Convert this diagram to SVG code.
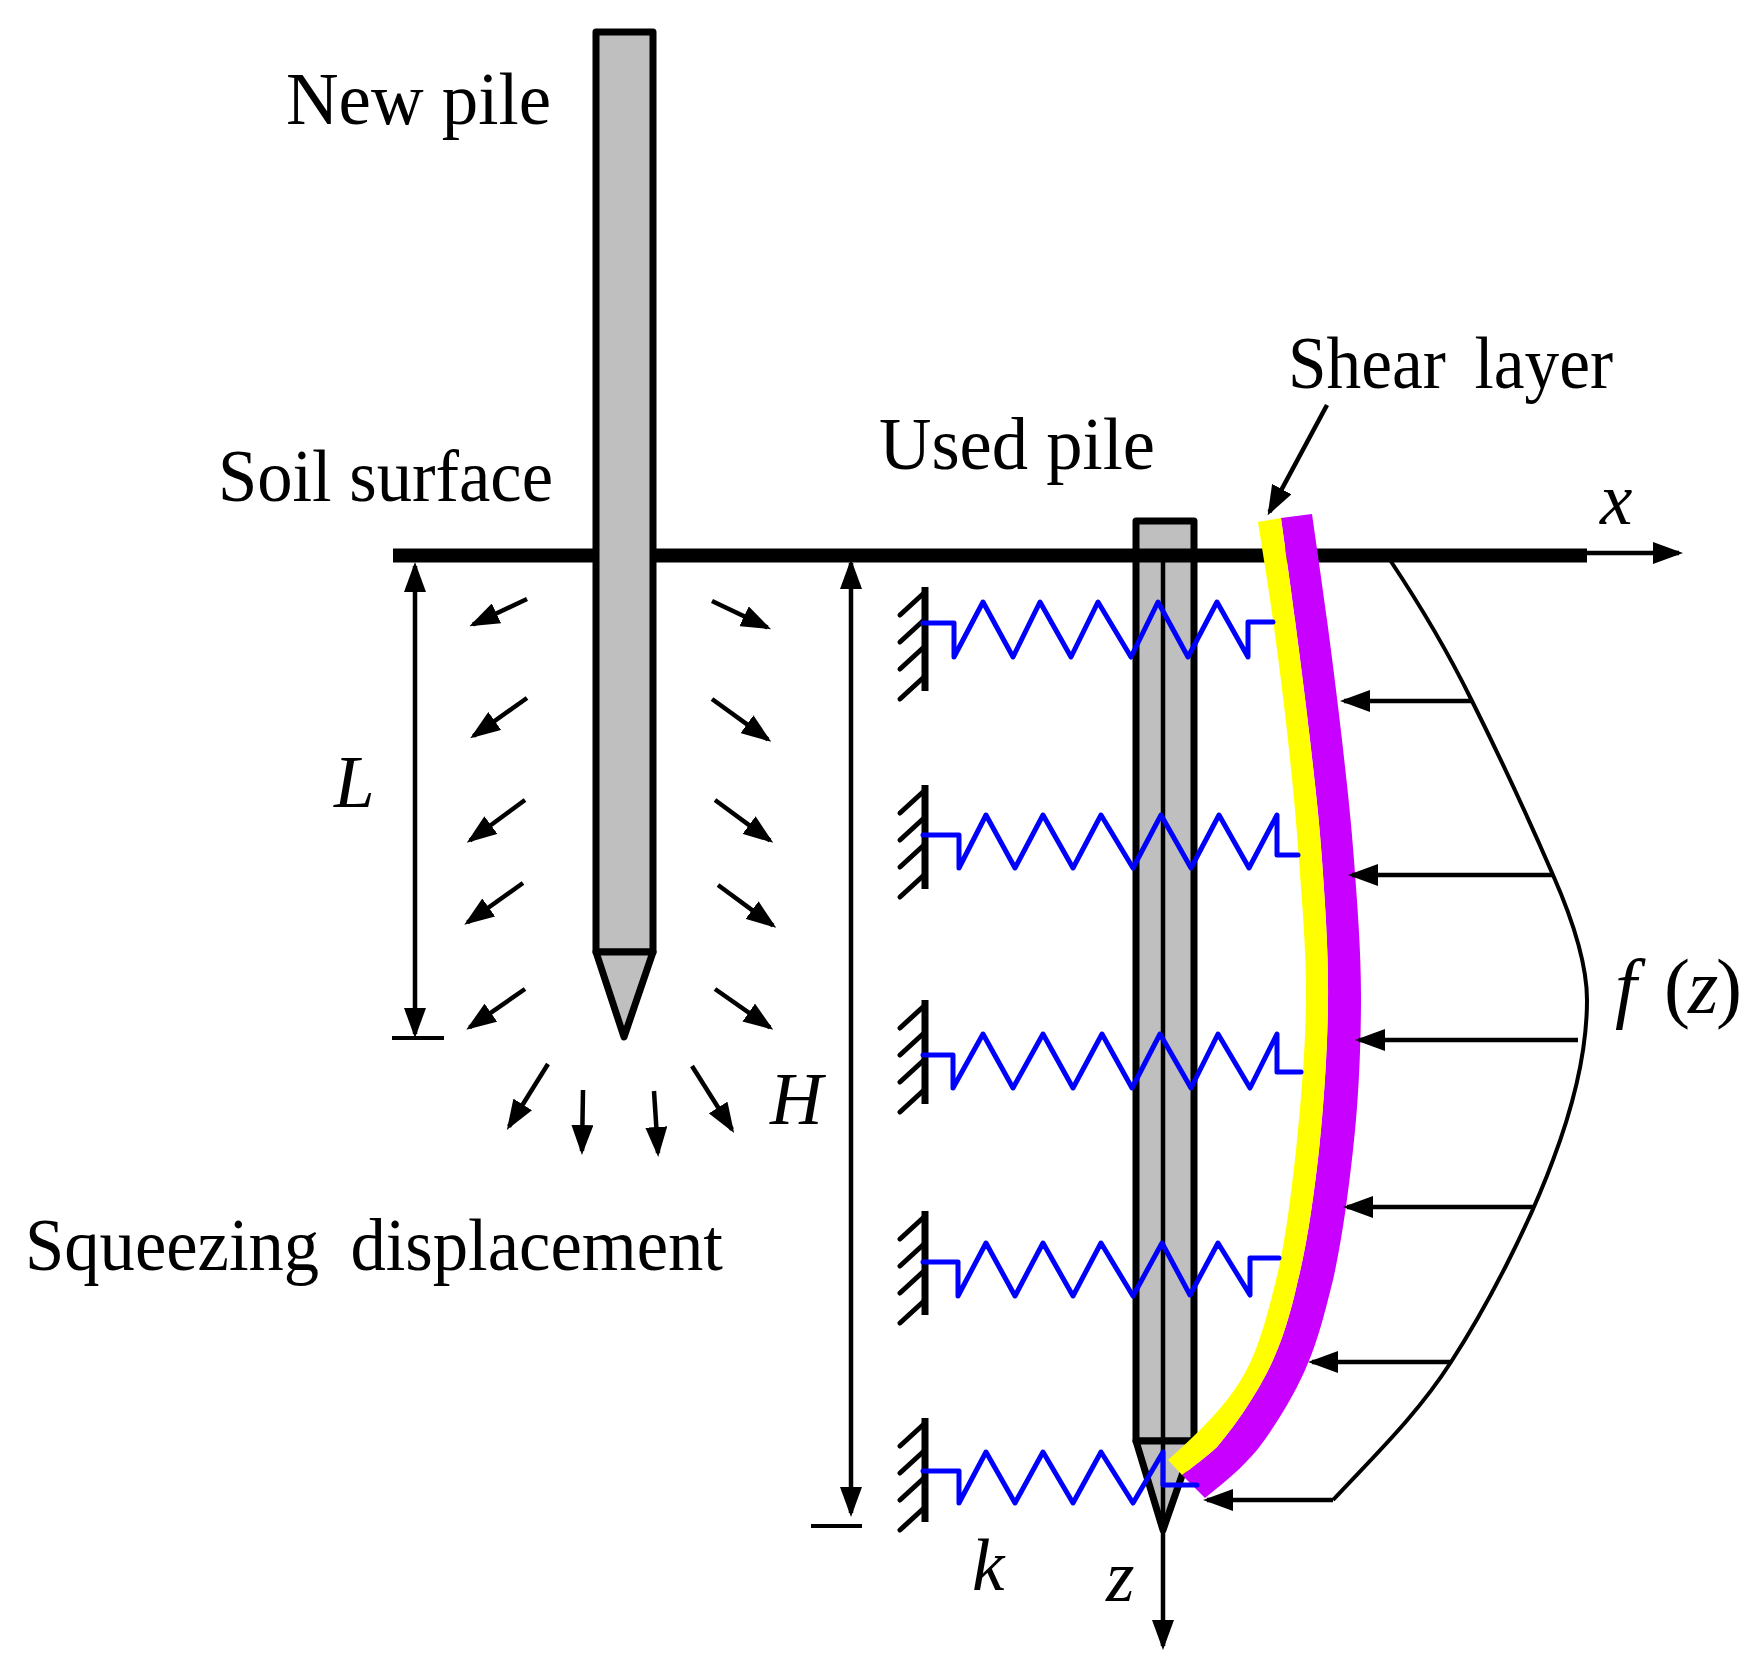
<svg xmlns="http://www.w3.org/2000/svg" xmlns:xlink="http://www.w3.org/1999/xlink" width="1762" height="1672" viewBox="0 0 1762 1672">
<style>
.pile{fill:#bfbfbf;stroke:#000;stroke-width:7;stroke-linejoin:round}
.arw{fill:none;stroke:#000;stroke-width:4.500;marker-end:url(#ah)}
.dbl{marker-start:url(#ahs)}
.thin{fill:none;stroke:#000;stroke-width:4}
.spring{fill:none;stroke:#00f;stroke-width:5;stroke-linejoin:round;stroke-linecap:round}
.wall{fill:none;stroke:#000;stroke-width:7}
.hatch{fill:none;stroke:#000;stroke-width:5;stroke-linecap:round}
text{font-family:"Liberation Serif","Times New Roman",serif;font-size:73px;fill:#000}
.it{font-style:italic}
.big{font-size:78px}
</style>
<defs>
<marker id="ah" markerUnits="userSpaceOnUse" markerWidth="30" markerHeight="22" viewBox="0 0 30 22" refX="26" refY="11" orient="auto"><path d="M0 0L30 11L0 22Z" fill="#000"/></marker>
<marker id="ahs" markerUnits="userSpaceOnUse" markerWidth="30" markerHeight="22" viewBox="0 0 30 22" refX="4" refY="11" orient="auto"><path d="M30 0L0 11L30 22Z" fill="#000"/></marker>
<g id="wallshape">
<path class="wall" d="M925 0V104"/>
<path class="hatch" d="M924 6L900 28M924 33L900 55M924 60L900 82M924 90L900 112"/>
</g>
</defs>
<rect width="1762" height="1672" fill="#fff"/>
<g id="used-pile">
<rect class="pile" x="1136" y="521" width="58" height="920"/>
<path class="pile" d="M1136 1441L1163 1530L1194 1441Z"/>
</g>
<g id="soil-surface">
<path d="M393 555.500H1587" stroke="#000" stroke-width="14" fill="none"/>
</g>
<g id="new-pile">
<rect class="pile" x="596" y="32" width="57" height="920"/>
<path class="pile" d="M596 952L624 1037L653 952Z"/>
</g>
<g id="load-curve">
<path class="thin" d="M1390 560C1420 605 1448 652 1472 701C1500 757 1530 822 1553 875C1575 925 1587 965 1587 1000C1587 1055 1570 1115 1553 1160C1529 1225 1488 1305 1451 1362C1417 1415 1375 1455 1333 1500"/>
</g>
<g id="shear-layer">
<path fill="#c800ff" d="M1312 514C1314.500 531.700 1322 582.300 1327 620C1332 657.700 1337.500 700 1342 740C1346.500 780 1350.800 816.700 1354 860C1357.200 903.300 1361.200 951.700 1361 1000C1360.800 1048.300 1358.700 1100 1353 1150C1348 1195 1342 1240 1333 1280C1325 1312 1318 1340 1308 1363C1298 1388 1278 1423 1257 1450C1242 1468 1225 1482 1205 1498L1182 1475C1194 1466 1205 1458 1217 1447C1240 1420 1262 1385 1273 1360C1283 1338 1291 1312 1298 1280C1307 1245 1314 1195 1319 1150C1324.200 1100 1327.500 1048.300 1328 1000C1328.500 951.700 1325 903.300 1322 860C1319 816.700 1314.500 780 1310 740C1305.500 700 1299.800 657 1295 620C1290.200 583 1283.300 535 1281 518Z"/>
<path fill="#ff0" d="M1258 522C1260.500 538.300 1268 583.700 1273 620C1278 656.300 1283.700 700 1288 740C1292.300 780 1296 816.700 1299 860C1302 903.300 1306.500 951.700 1306 1000C1305.500 1048.300 1301.200 1100 1296 1150C1291 1195 1285 1245 1276 1280C1270 1305 1261 1340 1250 1363C1238 1388 1222 1408 1200 1430C1190 1440 1179 1450 1168 1460L1182 1475C1194 1466 1205 1458 1217 1447C1240 1420 1262 1385 1273 1360C1283 1338 1291 1312 1298 1280C1307 1245 1314 1195 1319 1150C1324.200 1100 1327.500 1048.300 1328 1000C1328.500 951.700 1325 903.300 1322 860C1319 816.700 1314.500 780 1310 740C1305.500 700 1299.800 657 1295 620C1290.200 583 1283.300 535 1281 518Z"/>
</g>
<g id="walls">
<use xlink:href="#wallshape" href="#wallshape" y="587"/>
<use xlink:href="#wallshape" href="#wallshape" y="785"/>
<use xlink:href="#wallshape" href="#wallshape" y="1000"/>
<use xlink:href="#wallshape" href="#wallshape" y="1211"/>
<use xlink:href="#wallshape" href="#wallshape" y="1418"/>
</g>
<g id="connectors">
<path class="arw" d="M1163 562V1646"/>
<path class="arw" d="M1587 553H1679"/>
<path class="arw" d="M1327 405L1269.500 512"/>
<path class="arw dbl" d="M415 566V1034"/>
<path class="arw dbl" d="M851 563V1513"/>
<path class="thin" d="M392 1038H444M811 1526H862"/>
<path class="arw" d="M1472 701H1344"/>
<path class="arw" d="M1553 875H1352"/>
<path class="arw" d="M1578 1040H1359"/>
<path class="arw" d="M1535 1207H1347"/>
<path class="arw" d="M1451 1362H1312"/>
<path class="arw" d="M1333 1500H1207"/>
<path class="arw" d="M527 599L473 624.500"/>
<path class="arw" d="M527 698L473.500 736"/>
<path class="arw" d="M525 800L470 840.500"/>
<path class="arw" d="M523 883L467.500 922.500"/>
<path class="arw" d="M525 989L469.500 1027.500"/>
<path class="arw" d="M712 601L767.500 627.500"/>
<path class="arw" d="M712 699L768 739.500"/>
<path class="arw" d="M715 800L770 840.500"/>
<path class="arw" d="M718 885L773 925.500"/>
<path class="arw" d="M715 989L770 1027.500"/>
<path class="arw" d="M548 1064L509 1126.500"/>
<path class="arw" d="M583 1090L582 1151"/>
<path class="arw" d="M654 1091L658 1153"/>
<path class="arw" d="M692 1066L732 1129.500"/>
</g>
<g id="springs">
<path id="spring-1" class="spring" d="M923 623H954V657L983 602L1013 657L1040 602L1071 657L1098 602L1131 657L1158 602L1188 657L1217 602L1248 657V622H1273"/>
<path id="spring-2" class="spring" d="M923 835H959V868L986 815L1015 868L1043 815L1073 868L1101 815L1133 868L1161 815L1191 868L1219 815L1249 868L1277 815V855H1298"/>
<path id="spring-3" class="spring" d="M923 1055H953V1088L983 1034L1013 1088L1043 1034L1073 1088L1102 1034L1132 1088L1160 1034L1191 1088L1218 1034L1250 1088L1277 1034V1072H1301"/>
<path id="spring-4" class="spring" d="M923 1262H958V1296L986 1243L1015 1296L1043 1243L1073 1296L1101 1243L1133 1296L1162 1243L1190 1295L1218 1243L1250 1295V1258H1279"/>
<path id="spring-5" class="spring" d="M923 1471H959V1503L986 1452L1015 1503L1043 1452L1073 1503L1101 1452L1133 1503L1163 1452V1485H1197"/>
</g>
<g id="labels">
<text x="286" y="124" textLength="265" lengthAdjust="spacingAndGlyphs">New pile</text>
<text x="218" y="501" textLength="335" lengthAdjust="spacingAndGlyphs">Soil surface</text>
<text x="879" y="469" textLength="276" lengthAdjust="spacingAndGlyphs">Used pile</text>
<text x="1288" y="388" textLength="325" lengthAdjust="spacingAndGlyphs" word-spacing="12">Shear layer</text>
<text x="25" y="1270" textLength="698" lengthAdjust="spacingAndGlyphs" word-spacing="14">Squeezing displacement</text>
<text class="it" x="334" y="807">L</text>
<text class="it" x="770" y="1124">H</text>
<text class="it" x="1600" y="524">x</text>
<text class="it" x="972" y="1590">k</text>
<text class="it" x="1106" y="1601">z</text>
<text class="big"><tspan class="it" x="1615" y="1013">f</tspan><tspan x="1664" y="1013">(</tspan><tspan class="it" x="1688" y="1013">z</tspan><tspan x="1716" y="1013">)</tspan></text>
</g>
</svg>
